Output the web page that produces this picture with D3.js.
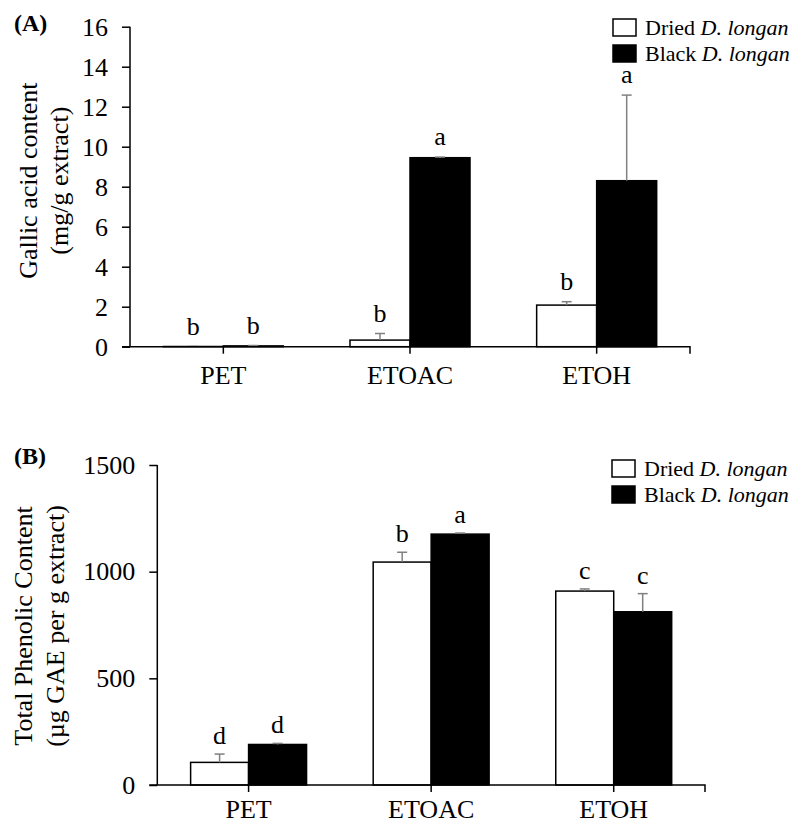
<!DOCTYPE html>
<html>
<head>
<meta charset="utf-8">
<script src="https://cdn.jsdelivr.net/npm/d3@7"></script>
<style>
  html, body { margin: 0; padding: 0; background: #fff; }
  svg { display: block; }
  text { font-family: "Liberation Serif", "Times New Roman", serif; fill: #000; }
</style>
</head>
<body>
<svg id="chart" width="794" height="826"></svg>
<script>
// ---------- DATA ----------
const categories = ["PET", "ETOAC", "ETOH"];
const seriesNames = ["Dried", "Black"];

// Panel A: Gallic acid content (mg/g extract)
const gallicDried = [0.01, 0.33, 2.08];
const gallicDriedErr = [0.0, 0.33, 0.17];
const gallicBlack = [0.04, 9.45, 8.3];
const gallicBlackErr = [0.02, 0.03, 4.28];
const gallicLettersDried = ["b", "b", "b"];
const gallicLettersBlack = ["b", "a", "a"];
const gallicTicks = [0, 2, 4, 6, 8, 10, 12, 14, 16];

// Panel B: Total phenolic content (µg GAE per g extract)
const phenolDried = [106, 1045, 909];
const phenolDriedErr = [39, 46, 10];
const phenolBlack = [190, 1176, 812];
const phenolBlackErr = [5, 5, 85];
const phenolLettersDried = ["d", "b", "c"];
const phenolLettersBlack = ["d", "a", "c"];
const phenolTicks = [0, 500, 1000, 1500];

// ---------- DRAW ----------
const svg = d3.select("#chart");
const FONT = 26;
const SERIF = "'Liberation Serif', 'Times New Roman', serif";

function drawPanel(cfg) {
  const g = svg.append("g");
  const x = d3.scaleBand().domain(categories).range([cfg.left, cfg.right]).padding(0);
  const groupW = x.bandwidth() * cfg.groupFrac;
  const xs = d3.scaleBand().domain(seriesNames)
    .range([(x.bandwidth() - groupW) / 2, (x.bandwidth() + groupW) / 2]).padding(0);
  const y = d3.scaleLinear().domain([0, cfg.max]).range([cfg.bottom, cfg.top]);

  const rows = categories.map((c, i) => ([
    { cat: c, s: "Dried", v: cfg.dried[i], e: cfg.driedErr[i], l: cfg.lettersDried[i] },
    { cat: c, s: "Black", v: cfg.black[i], e: cfg.blackErr[i], l: cfg.lettersBlack[i] }
  ])).flat();

  const cx = d => x(d.cat) + xs(d.s) + xs.bandwidth() / 2;

  // bars
  g.selectAll("rect.bar").data(rows).enter().append("rect")
    .attr("class", "bar")
    .attr("x", d => x(d.cat) + xs(d.s))
    .attr("width", xs.bandwidth())
    .attr("y", d => y(d.v))
    .attr("height", d => y(0) - y(d.v))
    .attr("fill", d => d.s === "Dried" ? "#fff" : "#000")
    .attr("stroke", "#000")
    .attr("stroke-width", 1.5);

  // error bars (upper only)
  const eb = g.selectAll("g.err").data(rows).enter().append("g").attr("class", "err");
  eb.append("line")
    .attr("x1", cx).attr("x2", cx)
    .attr("y1", d => y(d.v))
    .attr("y2", d => y(d.v + d.e))
    .attr("stroke", "#808080").attr("stroke-width", 1.5);
  eb.append("line")
    .attr("x1", d => cx(d) - 5).attr("x2", d => cx(d) + 5)
    .attr("y1", d => y(d.v + d.e))
    .attr("y2", d => y(d.v + d.e))
    .attr("stroke", "#808080").attr("stroke-width", 1.5);

  // significance letters
  g.selectAll("text.sig").data(rows).enter().append("text")
    .attr("class", "sig")
    .attr("x", cx)
    .attr("y", d => y(d.v + d.e) - cfg.letterGap)
    .attr("text-anchor", "middle")
    .attr("font-size", FONT)
    .text(d => d.l);

  // y axis
  const ya = d3.axisLeft(y).tickValues(cfg.ticks).tickSize(8).tickPadding(14).tickFormat(d3.format("d"));
  const yg = g.append("g").attr("transform", `translate(${cfg.left},0)`).call(ya);
  yg.select(".domain").attr("d", `M0,${cfg.top}V${cfg.bottom}`).attr("stroke", "#000").attr("stroke-width", 1.5);
  yg.selectAll(".tick line").attr("stroke", "#000").attr("stroke-width", 1.5);
  yg.selectAll(".tick text").attr("font-size", FONT).attr("font-family", SERIF).attr("fill", "#000");

  // x axis
  const xa = d3.axisBottom(x).tickSize(7).tickPadding(cfg.xPad);
  const xg = g.append("g").attr("transform", `translate(0,${cfg.bottom})`).call(xa);
  xg.select(".domain").attr("d", `M${cfg.left - 8},0H${cfg.right}V7`).attr("stroke", "#000").attr("fill", "none").attr("stroke-width", 1.5);
  xg.selectAll(".tick line").attr("stroke", "#000").attr("stroke-width", 1.5);
  xg.selectAll(".tick text").attr("font-size", FONT).attr("font-family", SERIF).attr("fill", "#000");

  // y axis title (two lines)
  const cy = (cfg.top + cfg.bottom) / 2 + cfg.titleShift;
  cfg.title.forEach((t, i) => {
    g.append("text")
      .attr("transform", `translate(${cfg.titleX[i]},${cy}) rotate(-90)`)
      .attr("text-anchor", "middle")
      .attr("font-size", FONT)
      .text(t);
  });

  // panel label
  g.append("text").attr("x", 14).attr("y", cfg.panelY)
    .attr("font-size", 24).attr("font-weight", "bold").text(cfg.panel);

  // legend
  const lg = g.append("g").attr("transform", `translate(${cfg.legendX},${cfg.legendY})`);
  seriesNames.forEach((s, i) => {
    lg.append("rect").attr("x", 0).attr("y", i * 26).attr("width", 23).attr("height", 17)
      .attr("fill", s === "Dried" ? "#fff" : "#000").attr("stroke", "#000").attr("stroke-width", 1.5);
    const tx = lg.append("text").attr("x", 32).attr("y", i * 26 + 16).attr("font-size", 22);
    tx.append("tspan").text(s + " ");
    tx.append("tspan").attr("font-style", "italic").text("D. longan");
  });
}

drawPanel({
  left: 130, right: 690, top: 26.7, bottom: 346.7, max: 16, groupFrac: 0.643, xPad: 12,
  dried: gallicDried, driedErr: gallicDriedErr, black: gallicBlack, blackErr: gallicBlackErr,
  lettersDried: gallicLettersDried, lettersBlack: gallicLettersBlack, ticks: gallicTicks,
  letterGap: 12, title: ["Gallic acid content", "(mg/g extract)"], titleX: [37, 68], titleShift: -6,
  panel: "(A)", panelY: 31, legendX: 613, legendY: 19
});

drawPanel({
  left: 157.3, right: 705, top: 465, bottom: 785, max: 1500, groupFrac: 0.635, xPad: 8,
  dried: phenolDried, driedErr: phenolDriedErr, black: phenolBlack, blackErr: phenolBlackErr,
  lettersDried: phenolLettersDried, lettersBlack: phenolLettersBlack, ticks: phenolTicks,
  letterGap: 10, title: ["Total Phenolic Content", "(µg GAE per g extract)"], titleX: [32, 64], titleShift: 1,
  panel: "(B)", panelY: 464, legendX: 612, legendY: 460
});
</script>
</body>
</html>
